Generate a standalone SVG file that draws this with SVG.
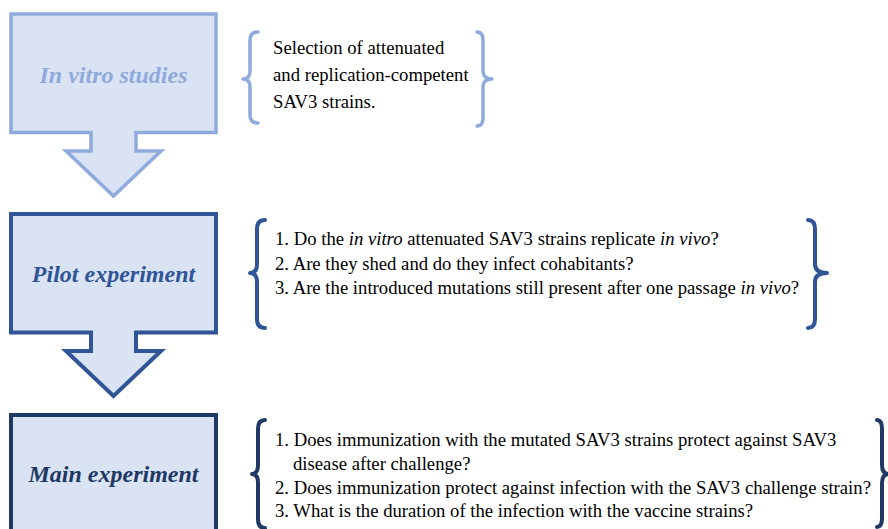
<svg xmlns="http://www.w3.org/2000/svg" width="888" height="529" viewBox="0 0 888 529">
<style>
text{font-family:'Liberation Serif','Times New Roman',Tinos,'Nimbus Roman','DejaVu Serif',serif}
.title{font-size:24px;font-weight:bold;font-style:italic;text-anchor:middle}
.body{font-size:18.7px;fill:#000}
.it{font-style:italic}
.brace{fill:none;stroke-linecap:round;stroke-linejoin:round}
.shape{stroke-linejoin:miter;fill:#dae3f3}
</style>
<rect width="888" height="529" fill="#ffffff"/>
<g id="step1">
<path class="shape" d="M11,14 H216 V132.5 H136 V151 H161 L113.5,196 L66,151 H91 V132.5 H11 Z" stroke="#8faadc" stroke-width="3.5"/>
<text class="title" x="113.5" y="83" fill="#8faadc" font-family="Liberation Serif, serif">In vitro studies</text>
</g>
<g id="note1">
<path class="brace" stroke="#8faadc" stroke-width="3.5" d="M258,32 Q250,32 250,40 V71 Q250,79 243,79 Q250,79 250,87 V115 Q250,123 258,123"/>
<path class="brace" stroke="#8faadc" stroke-width="3.5" d="M477,32 Q483,32 483,40 V71 Q483,79 492,79 Q483,79 483,87 V118 Q483,126 477,126"/>
<text class="body" x="273" y="54" font-family="Liberation Serif, serif">Selection of attenuated</text>
<text class="body" x="273" y="81" font-family="Liberation Serif, serif">and replication-competent</text>
<text class="body" x="273" y="108" font-family="Liberation Serif, serif">SAV3 strains.</text>
</g>
<g id="step2">
<path class="shape" d="M11,214 H216 V332.5 H136 V351 H161 L113.5,396 L66,351 H91 V332.5 H11 Z" stroke="#2f5597" stroke-width="4"/>
<text class="title" x="113.5" y="282" fill="#2f5597" font-family="Liberation Serif, serif">Pilot experiment</text>
</g>
<g id="note2">
<path class="brace" stroke="#2f5597" stroke-width="4" d="M265,220 Q257,220 257,229 V264 Q257,273 250,273 Q257,273 257,282 V319 Q257,328 265,328"/>
<path class="brace" stroke="#2f5597" stroke-width="4" d="M808,220 Q815,220 815,229 V264 Q815,273 827,273 Q815,273 815,282 V319 Q815,328 808,328"/>
<text class="body" x="275" y="245" font-family="Liberation Serif, serif">1. Do the <tspan class="it">in vitro</tspan> attenuated SAV3 strains replicate <tspan class="it">in vivo</tspan>?</text>
<text class="body" x="275" y="270" font-family="Liberation Serif, serif">2. Are they shed and do they infect cohabitants?</text>
<text class="body" x="275" y="294" font-family="Liberation Serif, serif">3. Are the introduced mutations still present after one passage <tspan class="it">in vivo</tspan>?</text>
</g>
<g id="step3">
<path class="shape" d="M11,540 V415 H216 V540" stroke="#203864" stroke-width="4"/>
<text class="title" x="113.5" y="482" fill="#203864" font-family="Liberation Serif, serif">Main experiment</text>
</g>
<g id="note3">
<path class="brace" stroke="#203864" stroke-width="4" d="M265,420 Q258,420 258,429 V465 Q258,474 252,474 Q258,474 258,483 V519 Q258,528 265,528"/>
<path class="brace" stroke="#203864" stroke-width="4" d="M877,420 Q882,420 882,429 V465 Q882,474 889,474 Q882,474 882,483 V518 Q882,527 877,527"/>
<text class="body" x="275" y="446" font-family="Liberation Serif, serif">1. Does immunization with the mutated SAV3 strains protect against SAV3</text>
<text class="body" x="293" y="470" font-family="Liberation Serif, serif">disease after challenge?</text>
<text class="body" x="275" y="494" font-family="Liberation Serif, serif">2. Does immunization protect against infection with the SAV3 challenge strain?</text>
<text class="body" x="275" y="517" font-family="Liberation Serif, serif">3. What is the duration of the infection with the vaccine strains?</text>
</g>
<g id="connectors"></g>
</svg>
